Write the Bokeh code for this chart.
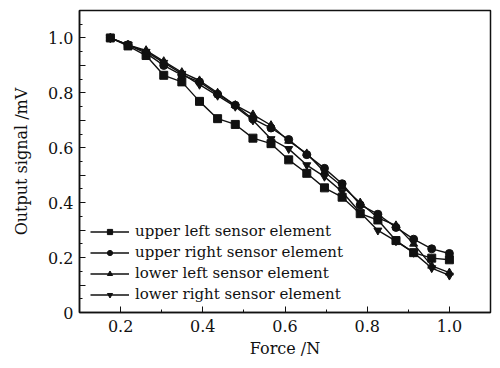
from bokeh.plotting import figure
from bokeh.models import FixedTicker, Legend, LegendItem, PrintfTickFormatter
from bokeh.embed import file_html
from bokeh.resources import INLINE

force = [0.175, 0.218, 0.262, 0.305, 0.349, 0.392, 0.436, 0.479, 0.522, 0.566,
         0.609, 0.653, 0.696, 0.739, 0.783, 0.826, 0.870, 0.913, 0.957, 1.0]

upper_left = [1.0, 0.971, 0.936, 0.864, 0.840, 0.769, 0.706, 0.685, 0.635, 0.615,
              0.556, 0.507, 0.454, 0.420, 0.360, 0.337, 0.262, 0.218, 0.198, 0.192]
upper_right = [1.0, 0.975, 0.945, 0.900, 0.865, 0.840, 0.795, 0.755, 0.705, 0.672,
               0.630, 0.575, 0.525, 0.469, 0.392, 0.358, 0.310, 0.267, 0.232, 0.215]
lower_left = [1.0, 0.975, 0.955, 0.915, 0.875, 0.845, 0.800, 0.755, 0.721, 0.682,
              0.625, 0.579, 0.512, 0.460, 0.400, 0.345, 0.317, 0.250, 0.170, 0.145]
lower_right = [1.0, 0.975, 0.950, 0.910, 0.870, 0.830, 0.790, 0.750, 0.700, 0.632,
               0.596, 0.537, 0.495, 0.440, 0.364, 0.299, 0.260, 0.218, 0.162, 0.135]

series_names = ["upper left sensor element", "upper right sensor element",
                "lower left sensor element", "lower right sensor element"]
markers = ["square", "circle", "triangle", "inverted_triangle"]

x_ticks = [0.2, 0.4, 0.6, 0.8, 1.0]
x_minor = [0.3, 0.5, 0.7, 0.9]
y_ticks = [0, 0.1, 0.2, 0.3, 0.4, 0.5, 0.6, 0.7, 0.8, 0.9, 1.0]
y_minor = [0.05, 0.15, 0.25, 0.35, 0.45, 0.55, 0.65, 0.75, 0.85, 0.95, 1.05]
y_labels = {0: "0", 0.1: "", 0.2: "0.2", 0.3: "", 0.4: "0.4", 0.5: "",
            0.6: "0.6", 0.7: "", 0.8: "0.8", 0.9: "", 1.0: "1.0"}

FONT = "DejaVu Serif"
INK = "#111111"

p = figure(width=492, height=360, x_range=(0.1, 1.1), y_range=(0, 1.1),
           output_backend="svg", toolbar_location=None,
           min_border_left=79, min_border_right=2, min_border_top=10, min_border_bottom=43)
p.grid.visible = False
p.outline_line_color = INK
p.outline_line_width = 1.5
p.background_fill_color = "white"
p.border_fill_color = "white"

p.xaxis.ticker = FixedTicker(ticks=x_ticks, minor_ticks=x_minor)
p.xaxis.formatter = PrintfTickFormatter(format="%.1f")
p.yaxis.ticker = FixedTicker(ticks=y_ticks, minor_ticks=y_minor)
p.yaxis.major_label_overrides = y_labels

for ax in (p.xaxis[0], p.yaxis[0]):
    ax.axis_line_color = INK
    ax.axis_line_width = 1.5
    ax.major_tick_line_color = INK
    ax.minor_tick_line_color = INK
    ax.major_tick_in = 6
    ax.major_tick_out = 0
    ax.minor_tick_in = 3
    ax.minor_tick_out = 0
    ax.major_label_text_font = FONT
    ax.major_label_text_font_size = "16px"
    ax.major_label_text_color = INK
    ax.axis_label_text_font = FONT
    ax.axis_label_text_font_size = "16px"
    ax.axis_label_text_font_style = "normal"
    ax.axis_label_text_color = INK

p.xaxis.major_label_standoff = 7
p.yaxis.major_label_standoff = 6
p.xaxis.axis_label = "Force /N"
p.yaxis.axis_label = "Output signal /mV"
p.xaxis.axis_label_standoff = 4
p.yaxis.axis_label_standoff = 14

items = []
for name, mk, ys in zip(series_names, markers,
                        [upper_left, upper_right, lower_left, lower_right]):
    ln = p.line(force, ys, line_color=INK, line_width=1.4)
    sc = p.scatter(force, ys, marker=mk, size=8, fill_color=INK, line_color=INK)
    items.append(LegendItem(label=name, renderers=[ln, sc]))

legend = Legend(items=items, location=(11, 9), border_line_color=None,
                background_fill_alpha=0, label_text_font=FONT,
                label_text_font_size="15px", label_text_color=INK,
                glyph_width=39, glyph_height=13, spacing=3, padding=6,
                label_standoff=6, margin=0, label_height=18)
p.add_layout(legend, "center")

open("out.html", "w").write(file_html(p, INLINE))
